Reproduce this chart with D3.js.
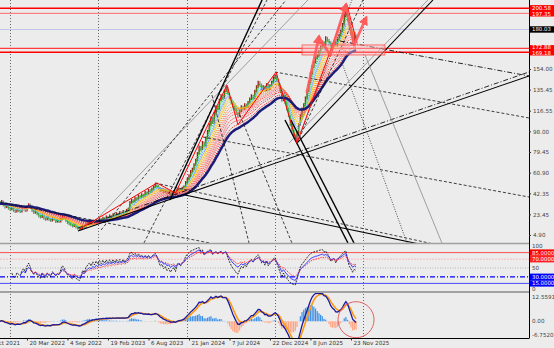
<!DOCTYPE html>
<html>
<head>
<meta charset="utf-8">
<script src="https://cdn.jsdelivr.net/npm/d3@7"></script>
<style>
  html, body { margin: 0; padding: 0; background: #ececec; }
  svg { display: block; font-family: "DejaVu Sans", sans-serif; }
</style>
</head>
<body>
<svg id="chart" width="554" height="348"></svg>
<script>
// weekly closes, first bar = week of 28 Nov 2021
const startDate = "2021-11-28";
const closes = [
  33, 35, 32, 30, 31, 29,   28, 30, 27, 26, 28, 27,
  26, 28, 29, 27, 30, 32,   30, 27, 25, 26, 24, 22,
  21, 23, 20, 19, 21, 19,   18, 20, 19, 17, 18, 17,
  19, 21, 20, 18, 16, 15,   14, 13, 14, 12, 11, 10,
  11, 13, 12, 14, 15, 16,   15, 17, 16, 18, 17, 19,
  18, 20, 19, 21, 20, 22,   21, 23, 22, 24, 23, 25,
  24, 26, 25, 27, 28, 34,   36, 35, 38, 37, 40, 39,
  41, 40, 43, 42, 45, 44,   46, 48, 50, 49, 47, 45,
  46, 44, 45, 43, 44, 42,   43, 44, 42, 45, 46, 45,
  47, 48, 52, 55, 58, 62,   64, 68, 72, 78, 84, 82,
  88, 85, 92, 98, 104, 110, 106, 114, 120, 118, 126, 130,
  128, 134, 137, 132, 128, 124, 120, 118, 114, 112, 116, 120,
  118, 122, 120, 124, 127, 130, 128, 134, 138, 142, 140, 136,
  138, 135, 140, 136, 139, 142, 146, 148, 144, 140, 134, 126,
  130, 124, 118, 112, 104, 98, 94, 91, 96, 104, 112, 118,
  122, 128, 134, 142, 150, 156, 160, 164, 166, 170, 174, 178,
  176, 182, 180, 178, 174, 176, 178, 175, 180, 184, 188, 194,
  202, 206, 198, 190, 186, 180, 184, 182
];

const priceTicks = [4.90, 23.45, 42.35, 60.90, 79.45, 98.00, 116.55, 135.45, 154.00];
const dateTicks = ["2021-10-03", "2022-03-20", "2022-09-04", "2023-02-19", "2023-08-06",
                   "2024-01-21", "2024-07-07", "2024-12-22", "2025-06-08", "2025-11-23"];
const yearMarks = ["2022-01-09", "2023-01-08", "2024-01-14", "2025-01-12", "2026-01-11"];

// horizontal levels drawn on the price chart
const hLevels = [208.5, 204.0, 189.5, 172.6, 169.0];
const hLabels = ["200.58", "197.35", "180.03", "172.88", "169.18"];

// trend lines: [barIndex1, price1, barIndex2, price2]
const trendLines = [
  [46.2, 8.5, 313.5, 147.7], [46.2, 11.2, 313.5, 151.3], [0, 34.5, 124.4, -2.3],
  [109.6, 40.8, 313.5, -23.8], [91.9, 51.6, 313.5, -22.0], [163, 151.3, 313.5, 110.0],
  [120.3, 92.9, 313.5, 39.0], [201.5, 179.1, 313.5, 147.7], [55.1, 15.7, 182.5, 216],
  [59.9, 9.4, 169.5, 216], [100.7, 36.3, 155.3, 216], [85.3, -2.3, 158.2, 216],
  [176, 87.5, 256.6, 216], [171.3, 87.5, 253.6, 216], [176, 87.5, 215.1, 216],
  [176, 87.5, 208.6, 216], [168.9, 108.2, 206.2, -2.3], [172.4, 108.2, 209.8, -2.3],
  [216.3, 166.6, 261.9, -2.3], [202.7, 159.4, 241.2, -2.3], [125.6, 130.6, 147.6, -2.3],
  [142.2, 112.7, 173, -2.3]
];
const trendKinds = ["solid", "dashdot", "dash", "solid", "dash", "dash", "dash", "dashdot", "grey",
  "dash", "thick", "dash", "solid", "grey", "dash", "dot", "thick", "thick", "grey", "dot", "dash", "dash"];

// zigzag swing points [barIndex, price]
const zigzag = [[47, 10], [93, 51.6], [104, 42.6], [134.5, 139.6], [141, 104], [163.6, 151.3],
                [176, 87.5], [205.6, 211.5], [211.6, 177.3]];
// hand drawn wave arrows [barIndex, price]
const wavePts = [[181.9, 133.3], [189.0, 182.7], [195.6, 166.6], [205.0, 211.5], [209.8, 175.6], [216.9, 199.8]];
const zoneBox = [179, 228.1, 166.6, 175.6];

const rsiLevels = [85, 70, 50, 30, 15];
const macdTicks = [12.5591, 0, -6.752];

// ---------------------------------------------------------------
const svg = d3.select("#chart");
const axisX = 529;
const WEEK = 7 * 24 * 3600 * 1000;
const parse = d3.utcParse("%Y-%m-%d");
const t0 = parse(startDate);
const toDate = i => new Date(t0.getTime() + i * WEEK);

const x = d3.scaleUtc().domain([t0, toDate(313.5)]).range([0, axisX]);
const xi = i => x(toDate(i));
const y = d3.scaleLinear().domain([4.9, 154]).range([235, 69]);
const yR = d3.scaleLinear().domain([0, 100]).range([290, 246]);
const yM = d3.scaleLinear().domain([-6.752, 12.5591]).range([334.5, 296.7]);

const defs = svg.append("defs");
[["cMain", 0, 243], ["cRsi", 244, 48], ["cMacd", 293, 45]].forEach(([id, top, h]) => {
  defs.append("clipPath").attr("id", id).append("rect")
    .attr("x", 0).attr("y", top).attr("width", axisX).attr("height", h);
});
defs.append("marker").attr("id", "ah").attr("viewBox", "0 0 10 10")
  .attr("refX", 7).attr("refY", 5).attr("markerWidth", 3.4).attr("markerHeight", 3.4)
  .attr("orient", "auto")
  .append("path").attr("d", "M0,0L10,5L0,10z").attr("fill", "#ff5b5b");

svg.append("rect").attr("width", 554).attr("height", 348).attr("fill", "#ececec");

// indicator helpers
const ema = (arr, n) => { const k = 2 / (n + 1); let p; return arr.map((v, i) => (p = i ? v * k + p * (1 - k) : v)); };
const rsi = (arr, n) => {
  const out = arr.map(() => null); let ag = 0, al = 0;
  for (let i = 1; i < arr.length; i++) {
    const d = arr[i] - arr[i - 1], g = Math.max(d, 0), l = Math.max(-d, 0);
    if (i <= n) { ag += g / n; al += l / n; if (i < n) continue; }
    else { ag = (ag * (n - 1) + g) / n; al = (al * (n - 1) + l) / n; }
    out[i] = al === 0 ? 100 : 100 - 100 / (1 + ag / al);
  }
  return out;
};

// year separators
const sep = svg.append("g");
yearMarks.forEach(d => {
  const xx = Math.round(x(parse(d))) + 0.5;
  sep.append("line").attr("x1", xx).attr("x2", xx).attr("y1", 0).attr("y2", 338)
    .attr("stroke", "#666").attr("stroke-width", 1).attr("stroke-dasharray", "1,2");
});

// ---------------- main pane ----------------
const main = svg.append("g").attr("clip-path", "url(#cMain)");
const levelColors = ["#ff0000", "#ff6a6a", "#c2c5ea", "#ff3b3b", "#ff0000"];
const levelWidths = [1.4, 1, 1, 1.2, 1.4];
hLevels.forEach((v, k) => {
  main.append("line").attr("x1", 0).attr("x2", axisX).attr("y1", y(v)).attr("y2", y(v))
    .attr("stroke", levelColors[k]).attr("stroke-width", levelWidths[k]);
});

// candles (bodies)
const openOf = i => i ? closes[i - 1] : closes[0] + 1;
main.append("g").selectAll("line").data(closes).join("line")
  .attr("x1", (c, i) => xi(i)).attr("x2", (c, i) => xi(i))
  .attr("y1", (c, i) => y(openOf(i)) + (c >= openOf(i) ? 1 : -1))
  .attr("y2", (c, i) => y(c) + (c >= openOf(i) ? -1.5 : 1.5))
  .attr("stroke", (c, i) => c >= openOf(i) ? "#a11a1a" : "#6f8f72")
  .attr("stroke-width", 1.3);

// rainbow MAs
const rbPeriods = [2, 3, 4, 5, 6, 7, 8, 9, 10, 12, 14, 16, 18, 20, 23, 26, 30];
const rbColors = ["#00b000", "#33dd00", "#00cc66", "#80d8ff", "#4aa8ff", "#8080ff",
                  "#e8e000", "#ffd000", "#ffb000", "#ff9800", "#ff8040", "#ff7060",
                  "#ff6060", "#ff4848", "#ff3030", "#f01818", "#e00000"];
const lineGen = d3.line().x(d => xi(d[0])).y(d => y(d[1]));
rbPeriods.forEach((n, k) => {
  const m = ema(closes, n).map((v, i) => [i, v]);
  main.append("path").attr("d", lineGen(m)).attr("fill", "none")
    .attr("stroke", rbColors[k]).attr("stroke-width", 0.9).attr("stroke-dasharray", "1.2,1");
});
const slow = ema(closes, 34).map((v, i) => [i, v]);
main.append("path").attr("d", lineGen(slow)).attr("fill", "none")
  .attr("stroke", "#1b1b78").attr("stroke-width", 2.5);

// trend lines
const kindStyle = {
  solid: ["#000", 1.1, null], thick: ["#000", 1.4, null], dash: ["#111", 0.8, "3,2"],
  dashdot: ["#111", 0.9, "5,2,1,2"], grey: ["#8a8a8a", 0.8, null], dot: ["#222", 0.8, "1,1.5"]
};
trendLines.forEach((t, k) => {
  const s = kindStyle[trendKinds[k]];
  main.append("line").attr("x1", xi(t[0])).attr("y1", y(t[1])).attr("x2", xi(t[2])).attr("y2", y(t[3]))
    .attr("stroke", s[0]).attr("stroke-width", s[1]).attr("stroke-dasharray", s[2]);
});

// zone rectangle
main.append("rect").attr("x", xi(zoneBox[0])).attr("y", y(zoneBox[3]))
  .attr("width", xi(zoneBox[1]) - xi(zoneBox[0])).attr("height", y(zoneBox[2]) - y(zoneBox[3]))
  .attr("fill", "#ffbcbc").attr("fill-opacity", 0.45).attr("stroke", "#ff5050").attr("stroke-width", 0.8);

// zigzag
main.append("path").attr("d", d3.line().x(d => xi(d[0])).y(d => y(d[1]))(zigzag))
  .attr("fill", "none").attr("stroke", "#ff0000").attr("stroke-width", 1);

// wave arrows
for (let k = 0; k < wavePts.length - 1; k++) {
  const a = wavePts[k], b = wavePts[k + 1];
  const seg = main.append("line").attr("x1", xi(a[0])).attr("y1", y(a[1]))
    .attr("x2", xi(b[0])).attr("y2", y(b[1]))
    .attr("stroke", "#ff5b5b").attr("stroke-opacity", 0.9).attr("stroke-width", 2.8)
    .attr("stroke-linecap", "round");
  if (b[1] > a[1]) seg.attr("marker-end", "url(#ah)");
}

// ---------------- RSI pane ----------------
const rp = svg.append("g").attr("clip-path", "url(#cRsi)");
const rsiStyle = { 85: ["#ff5050", 1, null], 70: ["#ffb0b0", 0.8, "2,1"], 50: ["#aaaaaa", 0.8, "1,1.5"],
                   30: ["#0000ff", 1.3, "5,2,1,2"], 15: ["#4a4aff", 1, null] };
rsiLevels.forEach(v => {
  const s = rsiStyle[v];
  rp.append("line").attr("x1", 0).attr("x2", axisX).attr("y1", yR(v)).attr("y2", yR(v))
    .attr("stroke", s[0]).attr("stroke-width", s[1]).attr("stroke-dasharray", s[2]);
});
const rLine = d3.line().defined(d => d[1] != null).x(d => xi(d[0])).y(d => yR(d[1]));
[[7, "#000", "2,1", 0.8], [12, "#2e2eff", null, 0.9], [18, "#ff2020", "1.5,1", 0.9]].forEach(([n, c, da, w]) => {
  const r = rsi(closes, n).map((v, i) => [i, v]);
  rp.append("path").attr("d", rLine(r)).attr("fill", "none")
    .attr("stroke", c).attr("stroke-width", w).attr("stroke-dasharray", da);
});

// ---------------- MACD pane ----------------
const mp = svg.append("g").attr("clip-path", "url(#cMacd)");
const e1 = ema(closes, 5), e2 = ema(closes, 12);
const macd = closes.map((c, i) => e1[i] - e2[i]);
const signal = ema(macd, 4);
const slowSig = ema(macd, 9);
const hist = macd.map((v, i) => v - slowSig[i]);
mp.append("g").selectAll("rect").data(hist).join("rect")
  .attr("x", (h, i) => xi(i) - 0.6).attr("width", 1.2)
  .attr("y", h => Math.min(yM(h), yM(0))).attr("height", h => Math.abs(yM(h) - yM(0)))
  .attr("fill", h => h >= 0 ? "#3b8fe8" : "#ffa27f");
const mLine = d3.line().x((v, i) => xi(i)).y(v => yM(v));
mp.append("path").attr("d", mLine(signal)).attr("fill", "none").attr("stroke", "#ff9a10").attr("stroke-width", 1.6);
mp.append("path").attr("d", mLine(macd)).attr("fill", "none").attr("stroke", "#1a1aa0").attr("stroke-width", 1.3);
mp.append("circle").attr("cx", xi(211)).attr("cy", yM(0.8)).attr("r", 18)
  .attr("fill", "none").attr("stroke", "#e46060").attr("stroke-width", 1);

// ---------------- frames & axes ----------------
svg.append("line").attr("x1", 0).attr("x2", axisX).attr("y1", 243.5).attr("y2", 243.5)
  .attr("stroke", "#a0a0a0").attr("stroke-width", 1.5);
svg.append("line").attr("x1", 0).attr("x2", axisX).attr("y1", 292).attr("y2", 292)
  .attr("stroke", "#8a8a8a").attr("stroke-width", 1.5);
svg.append("line").attr("x1", 0).attr("x2", axisX).attr("y1", 338.5).attr("y2", 338.5)
  .attr("stroke", "#000").attr("stroke-width", 1);
svg.append("line").attr("x1", axisX + 0.5).attr("x2", axisX + 0.5).attr("y1", 0).attr("y2", 338.5)
  .attr("stroke", "#000").attr("stroke-width", 1);

const styleAxis = g => {
  g.select(".domain").remove();
  g.selectAll("text").attr("font-size", 5.6).attr("fill", "#444").attr("font-family", "DejaVu Sans, sans-serif");
  g.selectAll(".tick line").attr("stroke", "#333");
};
svg.append("g").attr("transform", `translate(${axisX},0)`)
  .call(d3.axisRight(y).tickValues(priceTicks).tickSize(2).tickPadding(2).tickFormat(d3.format(".2f")))
  .call(styleAxis);

svg.append("g").attr("transform", "translate(0,338.5)")
  .call(d3.axisBottom(x).tickValues(dateTicks.map(parse)).tickSize(2).tickPadding(1)
    .tickFormat(d3.utcFormat("%-d %b %Y")))
  .call(styleAxis)
  .call(g => g.selectAll("text").attr("text-anchor", "start").attr("dx", 2).attr("fill", "#333"));

// price level labels
const boxLabel = (yy, txt, bg, shift = 0) => {
  svg.append("rect").attr("x", axisX + 1).attr("y", yy - 3.2).attr("width", 554 - axisX).attr("height", 6.4).attr("fill", bg);
  svg.append("text").attr("x", axisX + 3).attr("y", yy + 2 + shift).attr("font-size", 5.4).attr("fill", "#fff").text(txt);
};
const lvlBg = ["#ff0000", "#ff0000", "#000", "#ff0000", "#ff0000"];
const lvlShift = [-0.8, 0.8, 0, -1, 1];
hLevels.forEach((v, k) => boxLabel(y(v), hLabels[k], lvlBg[k], lvlShift[k]));

// RSI labels
const plainLabel = (yy, txt) => svg.append("text").attr("x", axisX + 3).attr("y", yy + 2)
  .attr("font-size", 5.6).attr("fill", "#444").text(txt);
plainLabel(yR(100), "100");
plainLabel(yR(50), "50");
plainLabel(yR(0) - 1, "0");
boxLabel(yR(85), "85.0000", "#ff0000");
boxLabel(yR(70), "70.0000", "#ff2020");
boxLabel(yR(30), "30.0000", "#0000ff");
boxLabel(yR(15), "15.0000", "#0000ff");

// MACD labels
const macdFmt = ["12.5591", "0.00", "-6.7520"];
macdTicks.forEach((v, k) => plainLabel(yM(v), macdFmt[k]));
</script>
</body>
</html>
